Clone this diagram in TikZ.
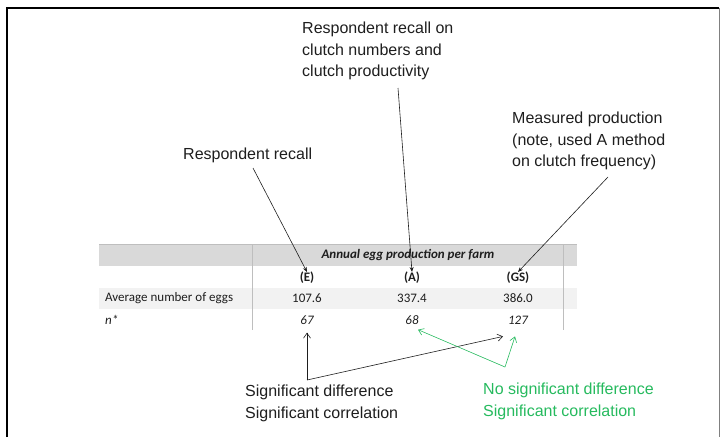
\documentclass[tikz,border=0pt]{standalone}
\usepackage{fontspec}
\setmainfont{Liberation Sans}
\newfontfamily\tabfont{Carlito}
\usetikzlibrary{arrows.meta}
\definecolor{sigGreen}{RGB}{38,186,94}
\definecolor{headGray}{RGB}{217,217,217}
\definecolor{rowGray}{RGB}{242,242,242}
\definecolor{ruleGray}{RGB}{190,190,190}
\definecolor{inkGray}{RGB}{30,30,30}
\newcommand\tabsize{\tabfont\fontsize{13}{16}\selectfont}
\tikzset{
  callout/.style={inner sep=0pt, align=left, text=inkGray,
    font=\fontsize{16}{21.5}\selectfont},
  greencallout/.style={callout, text=sigGreen},
  cell/.style={inner sep=0pt, font=\tabsize, text=inkGray},
  headcell/.style={cell, font=\tabsize\bfseries},
  italcell/.style={cell, font=\tabsize\itshape},
  pointer/.style={draw=inkGray, line width=0.6pt, -{Stealth[length=5pt,width=4pt]}},
  linkarrow/.style={draw=inkGray, line width=0.6pt, -{Straight Barb[length=5pt,width=7pt]}},
  greenarrow/.style={linkarrow, draw=sigGreen},
}
\begin{document}
\begin{tikzpicture}[x=1pt,y=-1pt]
\useasboundingbox (0,0) rectangle (722,437);
% frame around the slide
\draw[line width=2pt, black] (7,437) -- (7,7.5) -- (719,7.5);
\draw[line width=0.8pt, gray] (719,7.5) -- (719,437);

% table bands and rules
\fill[headGray] (99,244) rectangle (577,266);
\fill[rowGray] (99,288) rectangle (577,309);
\draw[ruleGray, line width=0.6pt] (99,244) -- (577,244);
\draw[ruleGray, line width=0.6pt] (252,244) -- (252,330);
\draw[ruleGray, line width=0.6pt] (563,244) -- (563,330);

% table text
\node[cell, font=\tabsize\bfseries\itshape] (title) at (408,255) {Annual egg production per farm};
\node[headcell] (colE) at (307,278) {(E)};
\node[headcell] (colA) at (412,278) {(A)};
\node[headcell] (colGS) at (518,278) {(GS)};
\node[cell, anchor=west] (avgLabel) at (105,298.5) {Average number of eggs};
\node[cell] (avgE) at (307,298.5) {107.6};
\node[cell] (avgA) at (412,298.5) {337.4};
\node[cell] (avgGS) at (518,298.5) {386.0};
\node[italcell, anchor=west] (nLabel) at (105,320) {n*};
\node[italcell] (nE) at (307,320) {67};
\node[italcell] (nA) at (412,320) {68};
\node[italcell] (nGS) at (518,320) {127};

% callouts above the table
\node[callout, anchor=base west] (recall) at (183,159) {Respondent recall};
\node[callout, anchor=north west] (clutch) at (302,22) {Respondent recall on\\clutch numbers and\\clutch productivity};
\node[callout, anchor=north west] (measured) at (512,112) {Measured production\\(note, used A method\\on clutch frequency)};

\coordinate (recallFoot) at (253,168);
\coordinate (clutchFoot) at (398,88);
\coordinate (measuredFoot) at (608,177);
\draw[pointer] (recallFoot) -- (colE.north);
\draw[pointer] (clutchFoot) -- (colA.north);
\draw[pointer] (measuredFoot) -- (colGS.north);

% statements below the table
\node[callout, anchor=north west] (sigdiff) at (245,385) {Significant difference\\Significant correlation};
\node[greencallout, anchor=north west] (nosigdiff) at (483,383) {No significant difference\\Significant correlation};

\coordinate (blackCorner) at (307,380);
\coordinate (greenCorner) at (505,367);
\draw[linkarrow] (blackCorner) -- ([yshift=-8pt]nE.south);
\draw[linkarrow] (blackCorner) -- ([xshift=-15pt,yshift=-12pt]nGS.south);
\draw[greenarrow] (greenCorner) -- ([xshift=6pt,yshift=-5pt]nA.south);
\draw[greenarrow] (greenCorner) -- ([xshift=-3pt,yshift=-12pt]nGS.south);
\end{tikzpicture}
\end{document}
